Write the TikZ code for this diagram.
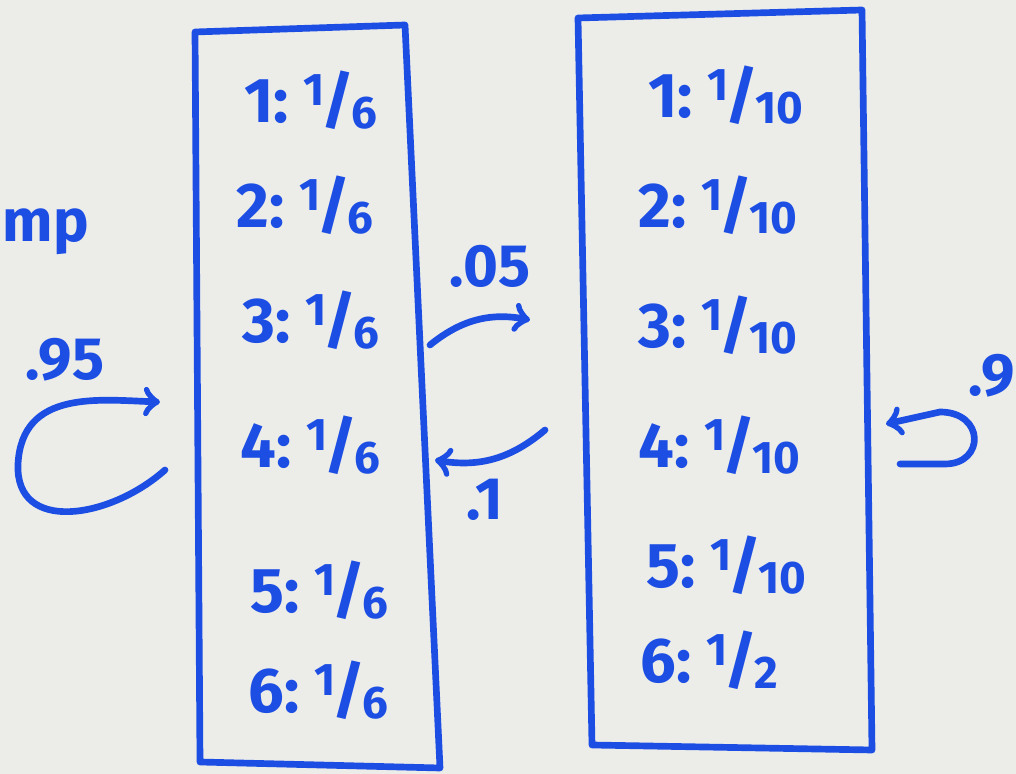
\documentclass[tikz,border=0pt]{standalone}
\usepackage{fontspec}
\setmainfont{Fira Sans}
\usetikzlibrary{calc}

\definecolor{penblue}{RGB}{28,78,228}
\definecolor{board}{RGB}{236,236,233}

% kleiner Bruch in Handschrift-Art
\newcommand{\hfrac}[2]{\raisebox{.5ex}{\fontsize{13}{13}\selectfont #1}\kern-.05em/\kern-.05em\raisebox{-.2ex}{\fontsize{13}{13}\selectfont #2}}

\begin{document}
\begin{tikzpicture}[
    ink/.style={draw=penblue, line width=1.9pt, line cap=round, line join=round},
    row/.style={text=penblue, anchor=west, font=\fontsize{18}{18}\selectfont\bfseries},
    prob/.style={text=penblue, font=\fontsize{17}{17}\selectfont\bfseries}
  ]
    % --- Rand und Hintergrund ---
    \useasboundingbox (0,0) rectangle (10.16,7.74);
    \fill[board] (0,0) rectangle (10.16,7.74);

    % --- linke Kiste (faire Wuerfel) ---
    \coordinate (fTL) at (1.95,7.42);
    \coordinate (fTR) at (4.05,7.49);
    \coordinate (fBR) at (4.40,0.06);
    \coordinate (fBL) at (2.00,0.12);
    \draw[ink] (fTL) -- (fTR) -- (fBR) -- (fBL) -- cycle;

    \node[row] (f1) at (2.32,6.74) {1:~\hfrac{1}{6}};
    \node[row] (f2) at (2.24,5.69) {2:~\hfrac{1}{6}};
    \node[row] (f3) at (2.30,4.54) {3:~\hfrac{1}{6}};
    \node[row] (f4) at (2.28,3.29) {4:~\hfrac{1}{6}};
    \node[row] (f5) at (2.38,1.84) {5:~\hfrac{1}{6}};
    \node[row] (f6) at (2.36,0.84) {6:~\hfrac{1}{6}};

    % --- rechte Kiste (gezinkte Wuerfel) ---
    \coordinate (lTL) at (5.78,7.56);
    \coordinate (lTR) at (8.62,7.64);
    \coordinate (lBR) at (8.72,0.24);
    \coordinate (lBL) at (5.92,0.29);
    \draw[ink] (lTL) -- (lTR) -- (lBR) -- (lBL) -- cycle;

    \node[row] (l1) at (6.36,6.79) {1:~\hfrac{1}{10}};
    \node[row] (l2) at (6.26,5.69) {2:~\hfrac{1}{10}};
    \node[row] (l3) at (6.26,4.49) {3:~\hfrac{1}{10}};
    \node[row] (l4) at (6.26,3.29) {4:~\hfrac{1}{10}};
    \node[row] (l5) at (6.34,2.09) {5:~\hfrac{1}{10}};
    \node[row] (l6) at (6.28,1.14) {6:~\hfrac{1}{2}};

    % --- Uebergaenge zwischen den Kisten ---
    \coordinate (goS) at (4.30,4.29);
    \coordinate (goE) at (5.30,4.54);
    \coordinate (backS) at (5.45,3.44);
    \coordinate (backE) at (4.35,3.14);
    \draw[ink, ->] (goS) to[bend left=25] (goE);
    \draw[ink, ->] (backS) to[bend left=25] (backE);
    \node[prob] (p05) at (4.90,5.08) {.05};
    \node[prob] (p1) at (4.85,2.74) {.1};

    % --- Schleife links ---
    \coordinate (fLoopS) at (1.65,3.04);
    \coordinate (fLoopE) at (1.60,3.72);
    \draw[ink, ->] (fLoopS)
        .. controls (1.10,2.55) and (0.15,2.40) .. (0.18,3.10)
        .. controls (0.22,3.85) and (1.00,3.74) .. (fLoopE);
    \node[prob] (p95) at (0.65,4.14) {.95};

    % --- Schleife rechts ---
    \coordinate (lLoopS) at (9.00,3.10);
    \coordinate (lLoopE) at (8.86,3.50);
    \draw[ink, ->] (lLoopS) -- (9.45,3.10)
        .. controls (9.85,3.10) and (9.85,3.62) .. (9.40,3.62)
        -- (lLoopE);
    \node[prob] (p9) at (9.92,3.98) {.9};

    % --- Text am linken Rand ---
    \node[prob, anchor=west, inner sep=0pt] (cut) at (0.02,5.42) {mp};

\end{tikzpicture}
\end{document}
